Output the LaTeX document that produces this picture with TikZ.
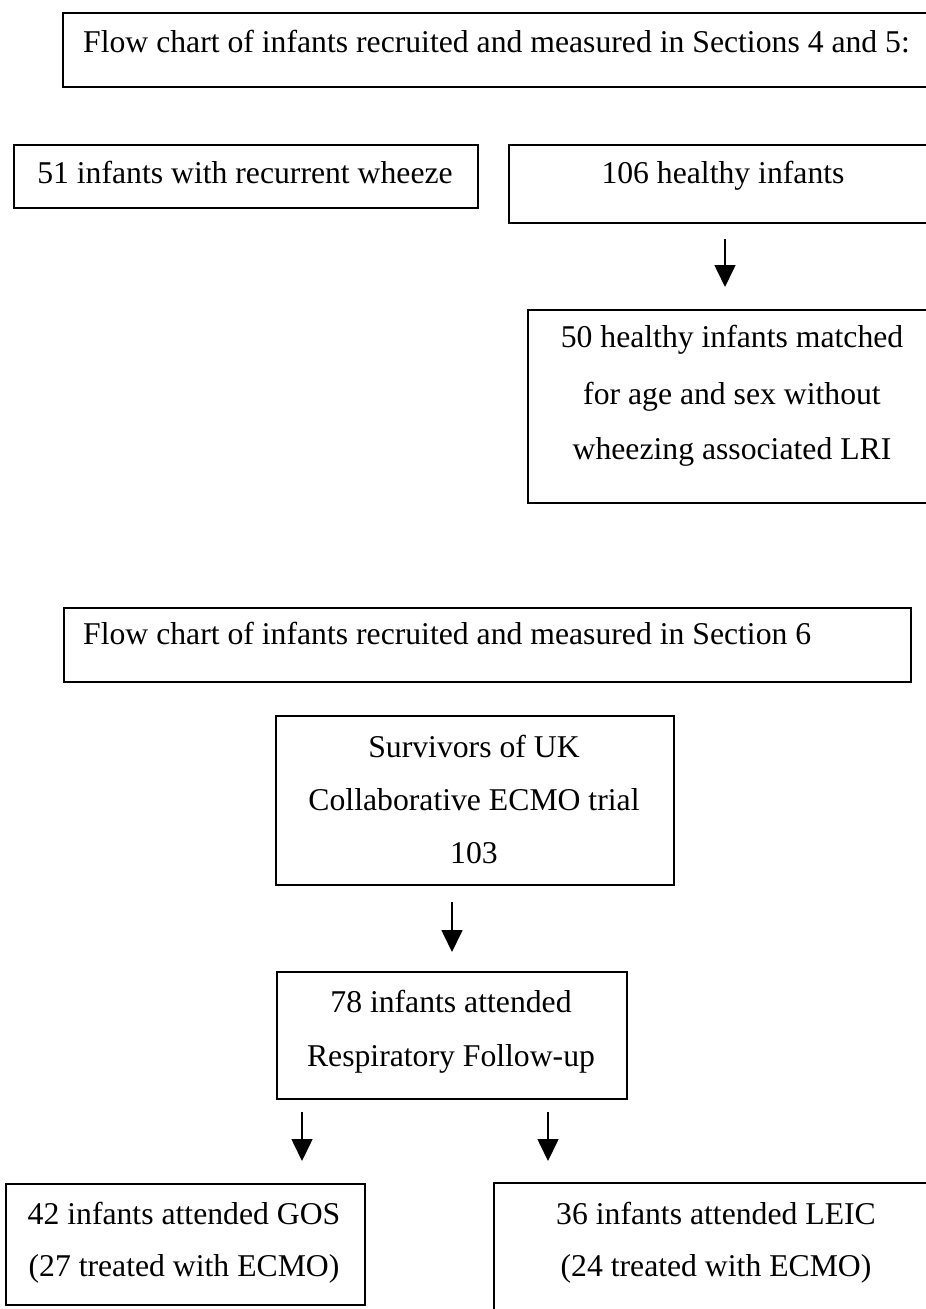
\documentclass[tikz,border=0pt]{standalone}
\usepackage{fontspec}
\setmainfont{Liberation Serif}
\usetikzlibrary{arrows.meta,calc}
\begin{document}
\begin{tikzpicture}[x=1pt,y=-1pt,
  box/.style={draw, line width=1.8pt, inner sep=0pt, anchor=north west},
  txt/.style={font=\fontsize{31.7}{38}\selectfont, inner sep=0pt, anchor=base},
  arr/.style={line width=1.6pt, -{Triangle[width=21pt,length=22pt]}}]
\useasboundingbox (0,0) rectangle (926,1309);
\clip (0,0) rectangle (926,1309);
\fill[white] (0,0) rectangle (926,1309);

% boxes
\node[box, minimum width=898pt, minimum height=74pt]  (A) at (62,12) {};
\node[box, minimum width=464pt, minimum height=63pt]  (B) at (13,144) {};
\node[box, minimum width=452pt, minimum height=78pt]  (C) at (508,144) {};
\node[box, minimum width=433pt, minimum height=193pt] (D) at (527,309) {};
\node[box, minimum width=847pt, minimum height=74pt]  (E) at (63,607) {};
\node[box, minimum width=398pt, minimum height=169pt] (F) at (275,715) {};
\node[box, minimum width=350pt, minimum height=127pt] (G) at (276,971) {};
\node[box, minimum width=359pt, minimum height=121pt] (H) at (5,1183) {};
\node[box, minimum width=467pt, minimum height=160pt] (I) at (493,1182) {};

% texts
\node[txt, anchor=base west] (tA) at (83,52) {Flow chart of infants recruited and measured in Sections 4 and 5:};
\node[txt] (tB) at (245,183) {51 infants with recurrent wheeze};
\node[txt] (tC) at (723,183) {106 healthy infants};
\node[txt] (tD1) at (732,347) {50 healthy infants matched};
\node[txt] (tD2) at (732,404) {for age and sex without};
\node[txt] (tD3) at (732,459) {wheezing associated LRI};
\node[txt, anchor=base west] (tE) at (83,644) {Flow chart of infants recruited and measured in Section 6};
\node[txt] (tF1) at (474,757) {Survivors of UK};
\node[txt] (tF2) at (474,810) {Collaborative ECMO trial};
\node[txt] (tF3) at (474,863) {103};
\node[txt] (tG1) at (451,1012) {78 infants attended};
\node[txt] (tG2) at (451,1066) {Respiratory Follow-up};
\node[txt] (tH1) at (184,1224) {42 infants attended GOS};
\node[txt] (tH2) at (184,1276) {(27 treated with ECMO)};
\node[txt] (tI1) at (716,1224) {36 infants attended LEIC};
\node[txt] (tI2) at (716,1276) {(24 treated with ECMO)};

% arrows
\draw[arr] ($(C.south west)+(217,15)$) -- ($(D.north west)+(198,-22)$);
\draw[arr] ($(F.south west)+(177,16)$) -- ($(G.north west)+(176,-19)$);
\draw[arr] ($(G.south west)+(26,12)$) -- ($(H.north west)+(297,-22)$);
\draw[arr] ($(G.south west)+(272,12)$) -- ($(I.north west)+(55,-21)$);
\end{tikzpicture}
\end{document}
